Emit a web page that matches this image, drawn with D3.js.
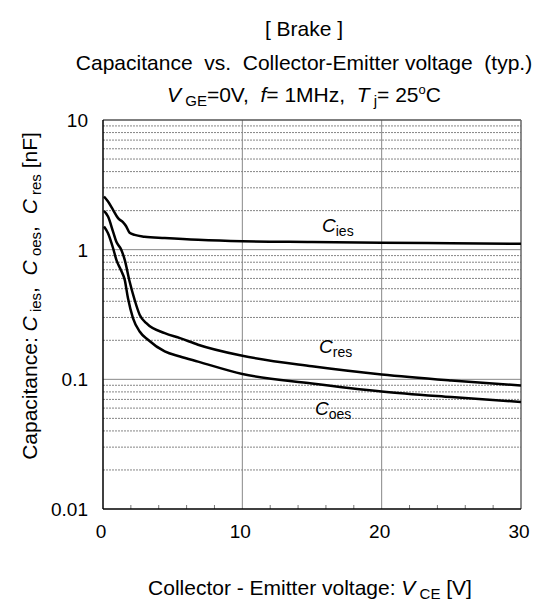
<!DOCTYPE html>
<html>
<head>
<meta charset="utf-8">
<script src="https://cdn.jsdelivr.net/npm/d3@7"></script>
<style>
  body { margin: 0; background: #fff; }
  text { font-family: "Liberation Sans", Arial, sans-serif; white-space: pre; }
</style>
</head>
<body>
<script>
// Chart data
var xTicks = [0, 10, 20, 30];
var yTicks = [0.01, 0.1, 1, 10];
var yTickLabels = ["0.01", "0.1", "1", "10"];

var ciesV = [0.07, 0.36, 0.72, 1.08, 1.43, 1.67, 1.91, 2.27, 2.98, 4.43, 6.82, 10, 15, 20, 25, 30];
var ciesC = [2.57, 2.35, 2.03, 1.75, 1.63, 1.51, 1.35, 1.30, 1.26, 1.23, 1.19, 1.16, 1.145, 1.13, 1.12, 1.11];

var cresV = [0.07, 0.36, 0.72, 0.96, 1.31, 1.56, 1.91, 2.27, 2.63, 3.11, 4.43, 5.53, 6.82, 10, 15, 20, 25, 30];
var cresC = [1.99, 1.80, 1.38, 1.15, 1.0, 0.834, 0.568, 0.41, 0.315, 0.271, 0.227, 0.208, 0.185, 0.152, 0.126, 0.109, 0.098, 0.0897];

var coesV = [0.07, 0.36, 0.72, 0.96, 1.31, 1.56, 1.79, 2.15, 2.63, 3.23, 4.43, 5.53, 6.82, 10, 15, 20, 25, 30];
var coesC = [1.51, 1.34, 1.03, 0.834, 0.687, 0.585, 0.423, 0.297, 0.234, 0.202, 0.164, 0.150, 0.137, 0.110, 0.093, 0.0807, 0.073, 0.0668];

// Set up size
var width = 558, height = 608;
var plotL = 103, plotR = 521, plotT = 120, plotB = 509;

var svg = d3.select("body").append("svg")
  .attr("width", width)
  .attr("height", height);

var x = d3.scaleLinear().domain([0, 30]).range([plotL, plotR]);
var y = d3.scaleLog().domain([0.01, 10]).range([plotB, plotT]);

// minor horizontal grid (2..9 in each decade)
var minorY = [];
[0.01, 0.1, 1].forEach(function (d) {
  for (var k = 2; k <= 9; k++) minorY.push(d * k);
});

svg.append("g").selectAll("line")
  .data(minorY)
  .enter().append("line")
  .attr("x1", plotL).attr("x2", plotR)
  .attr("y1", function (d) { return y(d); })
  .attr("y2", function (d) { return y(d); })
  .attr("stroke", "#666")
  .attr("stroke-width", 0.8)
  .attr("stroke-dasharray", "2,1");

// decade lines
svg.append("g").selectAll("line")
  .data([0.1, 1])
  .enter().append("line")
  .attr("x1", plotL).attr("x2", plotR)
  .attr("y1", function (d) { return y(d); })
  .attr("y2", function (d) { return y(d); })
  .attr("stroke", "#888")
  .attr("stroke-width", 1);

// vertical grid
svg.append("g").selectAll("line")
  .data([10, 20])
  .enter().append("line")
  .attr("x1", function (d) { return x(d); })
  .attr("x2", function (d) { return x(d); })
  .attr("y1", plotT).attr("y2", plotB)
  .attr("stroke", "#888")
  .attr("stroke-width", 1);

// minor x ticks (inward)
var minorX = d3.range(2, 30, 2).filter(function (d) { return d % 10 !== 0; });
svg.append("g").selectAll("line")
  .data(minorX)
  .enter().append("line")
  .attr("x1", function (d) { return x(d); })
  .attr("x2", function (d) { return x(d); })
  .attr("y1", plotB).attr("y2", plotB - 4)
  .attr("stroke", "#777")
  .attr("stroke-width", 1);

// frame: top/right grey, left/bottom black
svg.append("line").attr("x1", plotL).attr("x2", plotR).attr("y1", plotT).attr("y2", plotT)
  .attr("stroke", "#555").attr("stroke-width", 1.5);
svg.append("line").attr("x1", plotR).attr("x2", plotR).attr("y1", plotT).attr("y2", plotB)
  .attr("stroke", "#666").attr("stroke-width", 1.5);
svg.append("line").attr("x1", plotL).attr("x2", plotL).attr("y1", plotT).attr("y2", plotB)
  .attr("stroke", "#000").attr("stroke-width", 1.5);
svg.append("line").attr("x1", plotL).attr("x2", plotR).attr("y1", plotB).attr("y2", plotB)
  .attr("stroke", "#000").attr("stroke-width", 1.5);

// tick labels
svg.append("g").selectAll("text")
  .data(yTicks)
  .enter().append("text")
  .attr("x", 88)
  .attr("y", function (d) { return y(d) + 7; })
  .attr("text-anchor", "end")
  .attr("font-size", 19)
  .text(function (d, i) { return yTickLabels[i]; });

svg.append("g").selectAll("text")
  .data(xTicks)
  .enter().append("text")
  .attr("x", function (d) { return x(d) - 2; })
  .attr("y", 538)
  .attr("text-anchor", "middle")
  .attr("font-size", 19)
  .text(function (d) { return d; });

// curves
var line = d3.line()
  .x(function (d) { return x(d[0]); })
  .y(function (d) { return y(d[1]); })
  .curve(d3.curveMonotoneX);

[[ciesV, ciesC], [cresV, cresC], [coesV, coesC]].forEach(function (s) {
  svg.append("path")
    .datum(d3.zip(s[0], s[1]))
    .attr("d", line)
    .attr("fill", "none")
    .attr("stroke", "#000")
    .attr("stroke-width", 2.5);
});

// curve labels
function capLabel(px, py, sub) {
  var t = svg.append("text").attr("x", px).attr("y", py).attr("font-size", 19);
  t.append("tspan").attr("font-style", "italic").text("C");
  t.append("tspan").attr("font-size", 14).attr("dy", 4).text(sub);
}
capLabel(322, 232, "ies");
capLabel(319, 353, "res");
capLabel(315, 415, "oes");

// titles
svg.append("text").attr("x", 304).attr("y", 36).attr("text-anchor", "middle")
  .attr("font-size", 21).text("[ Brake ]");
svg.append("text").attr("x", 304).attr("y", 70).attr("text-anchor", "middle")
  .attr("font-size", 21).text("Capacitance  vs.  Collector-Emitter voltage  (typ.)");

var t3 = svg.append("text").attr("x", 304).attr("y", 102).attr("text-anchor", "middle")
  .attr("font-size", 21);
t3.append("tspan").attr("font-style", "italic").text("V");
t3.append("tspan").attr("font-size", 15).attr("dy", 4).text(" GE");
t3.append("tspan").attr("dy", -4).text("=0V,  ");
t3.append("tspan").attr("font-style", "italic").text("f");
t3.append("tspan").text("= 1MHz,  ");
t3.append("tspan").attr("font-style", "italic").text("T");
t3.append("tspan").attr("font-size", 15).attr("dy", 4).text(" j");
t3.append("tspan").attr("dy", -4).text("= 25");
t3.append("tspan").attr("font-size", 13).attr("dy", -8).text("o");
t3.append("tspan").attr("dy", 8).text("C");

// x axis title
var xt = svg.append("text").attr("x", 310).attr("y", 595).attr("text-anchor", "middle")
  .attr("font-size", 21);
xt.append("tspan").text("Collector - Emitter voltage: ");
xt.append("tspan").attr("font-style", "italic").text("V");
xt.append("tspan").attr("font-size", 15).attr("dy", 4).text(" CE");
xt.append("tspan").attr("dy", -4).text(" [V]");

// y axis title
var yt = svg.append("text")
  .attr("transform", "translate(37,296) rotate(-90)")
  .attr("text-anchor", "middle")
  .attr("font-size", 21);
yt.append("tspan").text("Capacitance: ");
yt.append("tspan").attr("font-style", "italic").text("C");
yt.append("tspan").attr("font-size", 15).attr("dy", 4).text(" ies");
yt.append("tspan").attr("dy", -4).text(",  ");
yt.append("tspan").attr("font-style", "italic").text("C");
yt.append("tspan").attr("font-size", 15).attr("dy", 4).text(" oes");
yt.append("tspan").attr("dy", -4).text(",  ");
yt.append("tspan").attr("font-style", "italic").text("C");
yt.append("tspan").attr("font-size", 15).attr("dy", 4).text(" res");
yt.append("tspan").attr("dy", -4).text(" [nF]");
</script>
</body>
</html>
